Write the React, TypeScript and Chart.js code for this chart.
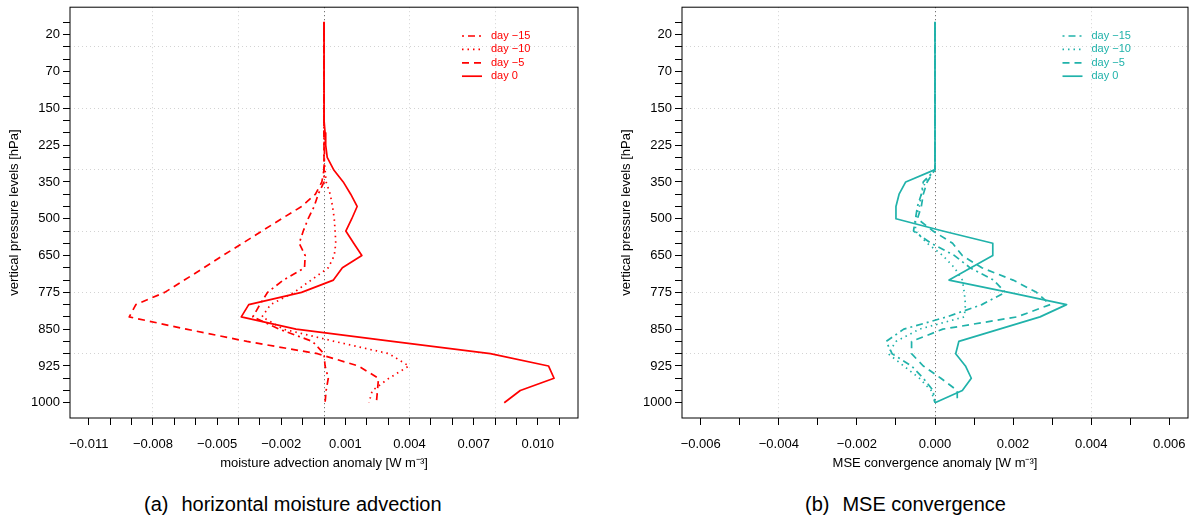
import React, { useEffect, useRef } from 'react';
import { Chart, registerables } from 'chart.js';

Chart.register(...registerables);

// ---------- data ----------
// pressure levels, top (10 hPa) to bottom (1000 hPa)
const levels = [10, 20, 30, 50, 70, 100, 125, 150, 175, 200, 225, 250, 300, 350, 400, 450, 500, 550, 600, 650, 700, 750, 775, 800, 825, 850, 875, 900, 925, 950, 975, 1000];
const labeledLevels = [20, 70, 150, 225, 350, 500, 650, 775, 850, 925, 1000];
const seriesLabels = ['day \u221215', 'day \u221210', 'day \u22125', 'day 0'];

// (a) horizontal moisture advection anomaly [W m-3]
const advDayM15 = [0, 0, 0, 0, 0, 0, 0, 0, 0, 0, 0.00002, 0.00002, 0, 0, -0.00027, -0.00046, -0.00074, -0.00097, -0.00116, -0.00088, -0.00091, -0.0019, -0.00264, -0.003, -0.00333, -0.00209, -0.00054, 0, 0.00005, 0.0002, 0.0001, 0.00005];
const advDayM10 = [0, 0, 0, 0, 0, 0, 0, 0, 0, 0, 0, 0, 0.00005, 0.0001, 0.00029, 0.0004, 0.00048, 0.00052, 0.00055, 0.00048, 0.0002, -0.0006, -0.0014, -0.0025, -0.0029, -0.0019, 0.0005, 0.00304, 0.00397, 0.00304, 0.00226, 0.0021];
const advDayM5 = [0, 0, 0, 0, 0, 0, 0, 0, 0, 0, 0, 0, 0, -0.0001, -0.0004, -0.00105, -0.00198, -0.0029, -0.00381, -0.00473, -0.00562, -0.00653, -0.00745, -0.0088, -0.00911, -0.00644, -0.0036, -0.0003, 0.0016, 0.00255, 0.0025, 0.00245];
const advDay0 = [0, 0, 0, 0, 0, 0, 0, 0, 0.00003, 0.00005, 0.00008, 0.00015, 0.00045, 0.0009, 0.00125, 0.00155, 0.0013, 0.00102, 0.00139, 0.00177, 0.00086, 0.00044, -0.00105, -0.00352, -0.00387, -0.00131, 0.0032, 0.00778, 0.0105, 0.01076, 0.00918, 0.00843];

// (b) MSE convergence anomaly [W m-3]
const mseDayM15 = [0, 0, 0, 0, 0, 0, 0, 0, 0, 0, 0, 0, 0, -0.0003, -0.00035, -0.00045, -0.0005, -0.00055, -0.0001, 0.0005, 0.0009, 0.0015, 0.0018, 0.0012, 0.0003, -0.0008, -0.00125, -0.0011, -0.0006, -0.0003, -0.00005, 0];
const mseDayM10 = [0, 0, 0, 0, 0, 0, 0, 0, 0, 0, 0, 0, 0, -0.00025, -0.00035, -0.0004, -0.0005, -0.0005, -0.0002, 0.0002, 0.0005, 0.0007, 0.00075, 0.00078, 0.00075, -0.0004, -0.001, -0.0012, -0.0008, -0.0004, -0.0001, 0];
const mseDayM5 = [0, 0, 0, 0, 0, 0, 0, 0, 0, 0, 0, 0, 0, -0.0002, -0.0003, -0.00035, -0.00045, -0.00005, 0.00045, 0.0007, 0.0012, 0.002, 0.0026, 0.00295, 0.0021, 0.0002, -0.0006, -0.0006, -0.0003, 0.00015, 0.00057, 0.00057];
const mseDay0 = [0, 0, 0, 0, 0, 0, 0, 0, 0, 0, 0, 0, 0, -0.00075, -0.00092, -0.001, -0.001, 0.0002, 0.00148, 0.00148, 0.00092, 0.00036, 0.00189, 0.00337, 0.00269, 0.00165, 0.00061, 0.00053, 0.00078, 0.00093, 0.0007, 0];

// x-axis ticks (labelled ones) and axis ranges
const advTickLabels = [-0.011, -0.008, -0.005, -0.002, 0.001, 0.004, 0.007, 0.010];
const advRange = [-0.01188, 0.01188];
const mseTickLabels = [-0.006, -0.004, -0.002, 0.0, 0.002, 0.004, 0.006];
const mseRange = [-0.00648, 0.00648];

// ---------- styling ----------
const FONT = '"Liberation Sans", Arial, Helvetica, sans-serif';
const dashes = [[2, 4, 7, 4], [1.5, 4], [7, 5], []];

const fmt = (v: number) => {
  const s = Math.abs(v).toFixed(3);
  return v < -1e-9 ? '\u2212' + s : s;
};

const frameBox = {
  id: 'frameBox',
  afterDraw(chart: any) {
    const { ctx, chartArea } = chart;
    ctx.save();
    ctx.strokeStyle = '#000';
    ctx.lineWidth = 1;
    ctx.strokeRect(chartArea.left, chartArea.top, chartArea.right - chartArea.left, chartArea.bottom - chartArea.top);
    ctx.restore();
  },
};

const profileLegend = {
  id: 'profileLegend',
  afterDatasetsDraw(chart: any, _args: any, opts: any) {
    const { ctx, chartArea } = chart;
    const x0 = chartArea.right - opts.offsetRight;
    chart.data.datasets.forEach((ds: any, i: number) => {
      const y = chartArea.top + opts.offsetTop + i * opts.rowHeight;
      ctx.save();
      ctx.strokeStyle = ds.borderColor;
      ctx.lineWidth = ds.borderWidth;
      ctx.setLineDash(ds.borderDash || []);
      ctx.beginPath();
      ctx.moveTo(x0, y);
      ctx.lineTo(x0 + opts.sampleLength, y);
      ctx.stroke();
      ctx.setLineDash([]);
      ctx.fillStyle = ds.borderColor;
      ctx.font = '11px ' + FONT;
      ctx.textBaseline = 'middle';
      ctx.textAlign = 'left';
      ctx.fillText(ds.label, x0 + opts.sampleLength + opts.gap, y);
      ctx.restore();
    });
  },
};

type PanelCfg = {
  series: number[][];
  color: string;
  range: number[];
  tickLabels: number[];
  xTitle: string;
  padRight: number;
  legendOffsetRight: number;
};

function buildConfig(cfg: PanelCfg): any {
  const n = levels.length;
  const datasets = cfg.series.map((vals, s) => ({
    label: seriesLabels[s],
    data: vals.map((v, i) => ({ x: v, y: n - i })),
    borderColor: cfg.color,
    borderWidth: 1.7,
    borderDash: dashes[s],
    borderJoinStyle: 'round',
    pointRadius: 0,
    tension: 0,
    fill: false,
  }));
  const kMin = Math.round(cfg.tickLabels[0] * 1000);
  const kMax = Math.round(cfg.tickLabels[cfg.tickLabels.length - 1] * 1000);
  const xTickValues: number[] = [];
  for (let k = kMin; k <= kMax + 1; k++) {
    if (k / 1000 <= cfg.range[1]) xTickValues.push(k / 1000);
  }
  const labelKeys = cfg.tickLabels.map((v) => Math.round(v * 1000));
  return {
    type: 'line',
    data: { datasets },
    plugins: [frameBox, profileLegend],
    options: {
      animation: false,
      responsive: false,
      maintainAspectRatio: false,
      devicePixelRatio: 1,
      layout: { padding: { left: 0, right: cfg.padRight, top: 7.2, bottom: 0 } },
      plugins: {
        legend: { display: false },
        tooltip: { enabled: false },
        profileLegend: { offsetRight: cfg.legendOffsetRight, offsetTop: 28.8, rowHeight: 13.4, sampleLength: 20, gap: 9 },
      },
      scales: {
        x: {
          type: 'linear',
          position: 'bottom',
          bounds: 'data',
          min: cfg.range[0],
          max: cfg.range[1],
          afterBuildTicks: (s: any) => {
            s.ticks = xTickValues.map((v) => ({ value: v }));
          },
          afterFit: (s: any) => {
            s.height = 62;
            s.paddingLeft = 0;
            s.paddingRight = 0;
          },
          grid: {
            color: (c: any) => {
              if (!c.tick) return 'rgba(0,0,0,0)';
              const k = Math.round(c.tick.value * 1000);
              if (k === 0) return '#555555';
              return k % 4 === 0 ? '#D3D3D3' : 'rgba(0,0,0,0)';
            },
            tickColor: '#000',
            tickLength: 7,
            lineWidth: 1,
          },
          border: { display: false, dash: [1, 3] },
          ticks: {
            autoSkip: false,
            maxRotation: 0,
            minRotation: 0,
            padding: 12,
            color: '#000',
            font: { family: FONT, size: 13 },
            callback: (v: number) => {
              const k = Math.round(v * 1000);
              return labelKeys.includes(k) ? fmt(k / 1000) : '';
            },
          },
          title: {
            display: true,
            text: cfg.xTitle,
            color: '#000',
            font: { family: FONT, size: 13 },
            padding: { top: 4, bottom: 9 },
          },
        },
        y: {
          type: 'linear',
          position: 'left',
          bounds: 'data',
          min: -0.24,
          max: 33.24,
          afterBuildTicks: (s: any) => {
            s.ticks = levels.map((_, i) => ({ value: i + 1 }));
          },
          afterFit: (s: any) => {
            s.width = 70;
            s.paddingTop = 0;
            s.paddingBottom = 0;
          },
          grid: {
            color: (c: any) => (c.tick && c.tick.value % 5 === 0 ? '#D3D3D3' : 'rgba(0,0,0,0)'),
            tickColor: '#000',
            tickLength: 7,
            lineWidth: 1,
          },
          border: { display: false, dash: [1, 3] },
          ticks: {
            autoSkip: false,
            padding: 3,
            color: '#000',
            font: { family: FONT, size: 13 },
            callback: (v: number) => {
              const lev = levels[n - Math.round(v)];
              return labeledLevels.includes(lev) ? String(lev) : '';
            },
          },
          title: {
            display: true,
            text: 'vertical pressure levels [hPa]',
            color: '#000',
            font: { family: FONT, size: 13 },
            padding: { top: 6.2, bottom: 4 },
          },
        },
      },
    },
  };
}

function Panel(props: { cfg: PanelCfg; left: number; width: number }) {
  const ref = useRef<HTMLCanvasElement | null>(null);
  useEffect(() => {
    if (!ref.current) return;
    const chart = new Chart(ref.current, buildConfig(props.cfg));
    return () => chart.destroy();
  }, []);
  return (
    <canvas
      ref={ref}
      width={props.width}
      height={480}
      style={{ position: 'absolute', left: props.left, top: 0, width: props.width, height: 480 }}
    />
  );
}

const panelA: PanelCfg = {
  series: [advDayM15, advDayM10, advDayM5, advDay0],
  color: '#FF0000',
  range: advRange,
  tickLabels: advTickLabels,
  xTitle: 'moisture advection anomaly [W m\u207B\u00B3]',
  padRight: 22,
  legendOffsetRight: 116,
};

const panelB: PanelCfg = {
  series: [mseDayM15, mseDayM10, mseDayM5, mseDay0],
  color: '#20B2AA',
  range: mseRange,
  tickLabels: mseTickLabels,
  xTitle: 'MSE convergence anomaly [W m\u207B\u00B3]',
  padRight: 3,
  legendOffsetRight: 125.5,
};

const captionStyle: React.CSSProperties = {
  position: 'absolute',
  top: 494,
  fontFamily: FONT,
  fontSize: 20,
  lineHeight: '20px',
  color: '#000',
  whiteSpace: 'nowrap',
};

export default function App() {
  return (
    <div style={{ position: 'absolute', left: 0, top: 0, width: 1191, height: 521, background: '#fff', overflow: 'hidden' }}>
      <Panel cfg={panelA} left={0} width={600} />
      <Panel cfg={panelB} left={612} width={579} />
      <div style={{ ...captionStyle, left: 144 }}>
        (a)<span style={{ marginLeft: 13 }}>horizontal moisture advection</span>
      </div>
      <div style={{ ...captionStyle, left: 805 }}>
        (b)<span style={{ marginLeft: 13 }}>MSE convergence</span>
      </div>
    </div>
  );
}
